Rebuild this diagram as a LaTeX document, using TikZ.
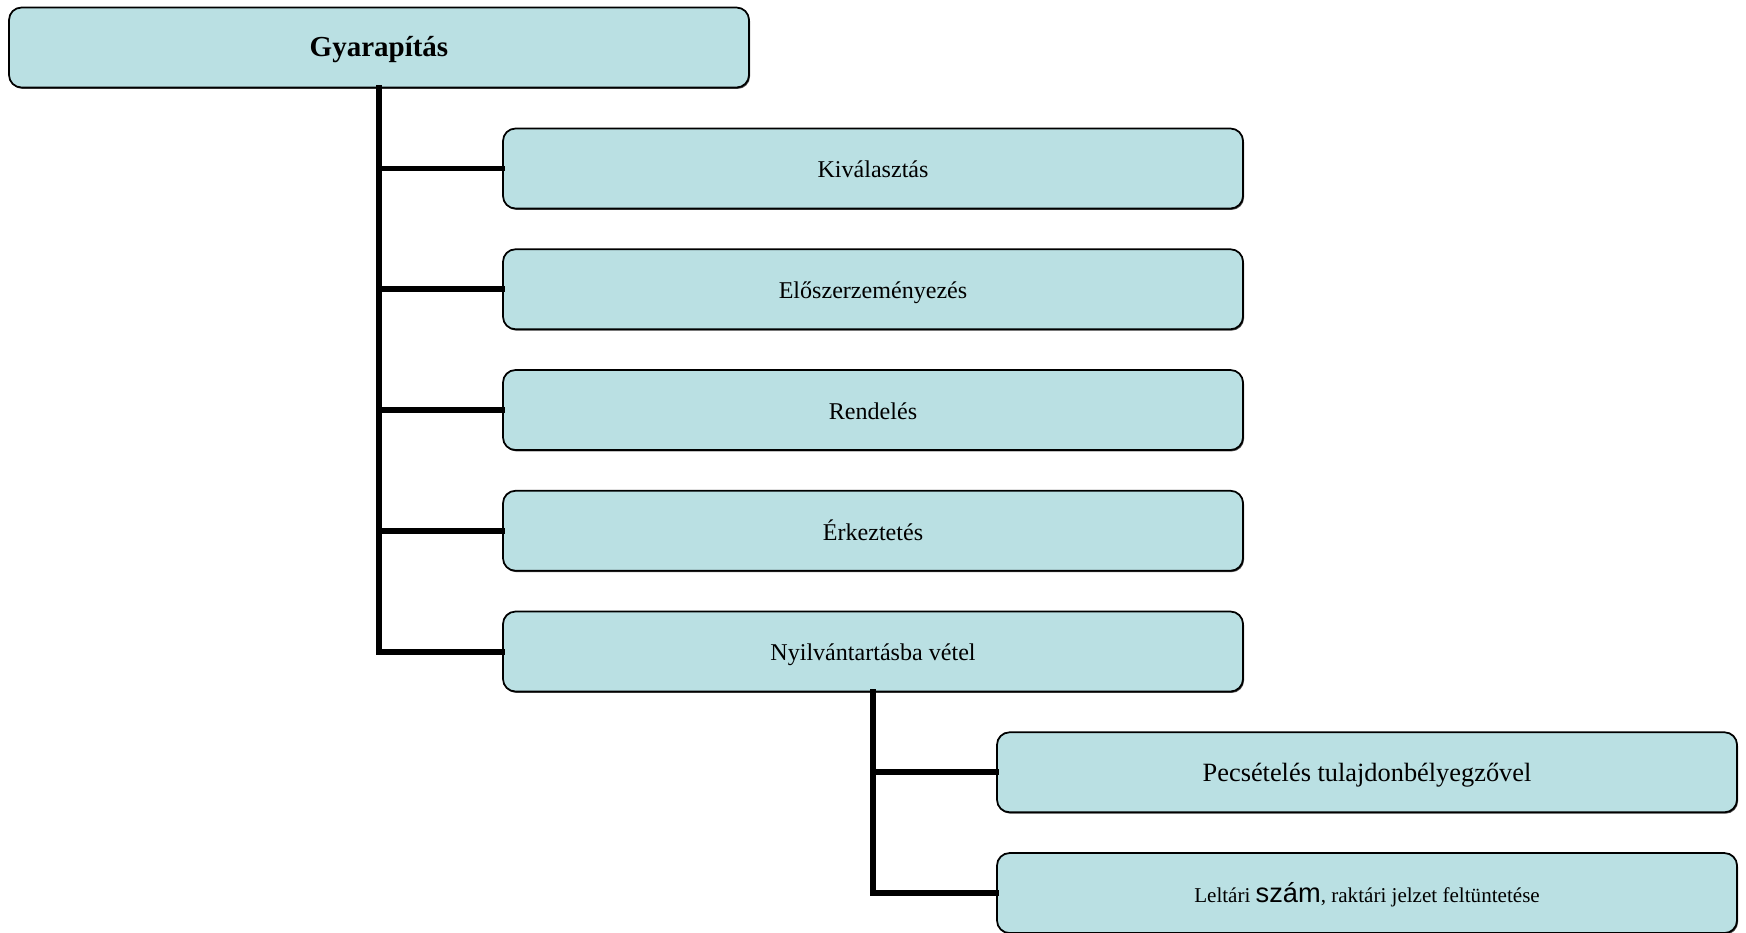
\documentclass[tikz,border=0pt]{standalone}
\usepackage{fontspec}
\setmainfont{Liberation Serif}
\newfontfamily\arialfont{Liberation Sans}
\usetikzlibrary{positioning,shadows}
\definecolor{boxfill}{RGB}{186,224,227}
\tikzstyle{bar} = [draw, line width=3.4pt, black, line cap=rect]

\begin{document}
\begin{tikzpicture}
\tikzset{step box/.style={rectangle, draw, line width=1pt, rounded corners=0.25cm, fill=boxfill,
  drop shadow={shadow xshift=0.6pt, shadow yshift=-0.8pt, fill=black!70, opacity=1},
  text height=1.05em, text depth=0pt,
  minimum width=14.8cm, minimum height=1.6cm, font=\fontsize{13.7}{16}\selectfont}}
\useasboundingbox (0,0) rectangle (34.92,-18.64);

\node [step box, font=\bfseries\fontsize{16.5}{19}\selectfont] (gy) at (7.58,-0.95) {Gyarapítás};

\node [step box] (ki) at (17.46,-3.37) {Kiválasztás};
\node [step box, below=0.78 cm of ki] (el) {Előszerzeményezés};
\node [step box, below=0.78 cm of el] (re) {Rendelés};
\node [step box, below=0.78 cm of re] (er) {Érkeztetés};
\node [step box, below=0.78 cm of er] (ny) {Nyilvántartásba vétel};

\node [step box, below=0.78 cm of ny, xshift=9.88 cm, font=\fontsize{15}{18}\selectfont] (pe) {Pecsételés tulajdonbélyegzővel};
\node [step box, below=0.78 cm of pe, font=\fontsize{12}{14}\selectfont] (le) {Leltári {\arialfont\fontsize{15.5}{18}\selectfont szám}, raktári jelzet feltüntetése};

\foreach \n in {ki,el,re,er,ny}
  \path [bar] (gy.south) |- (\n.west);
\foreach \n in {pe,le}
  \path [bar] (ny.south) |- (\n.west);
\end{tikzpicture}
\end{document}
